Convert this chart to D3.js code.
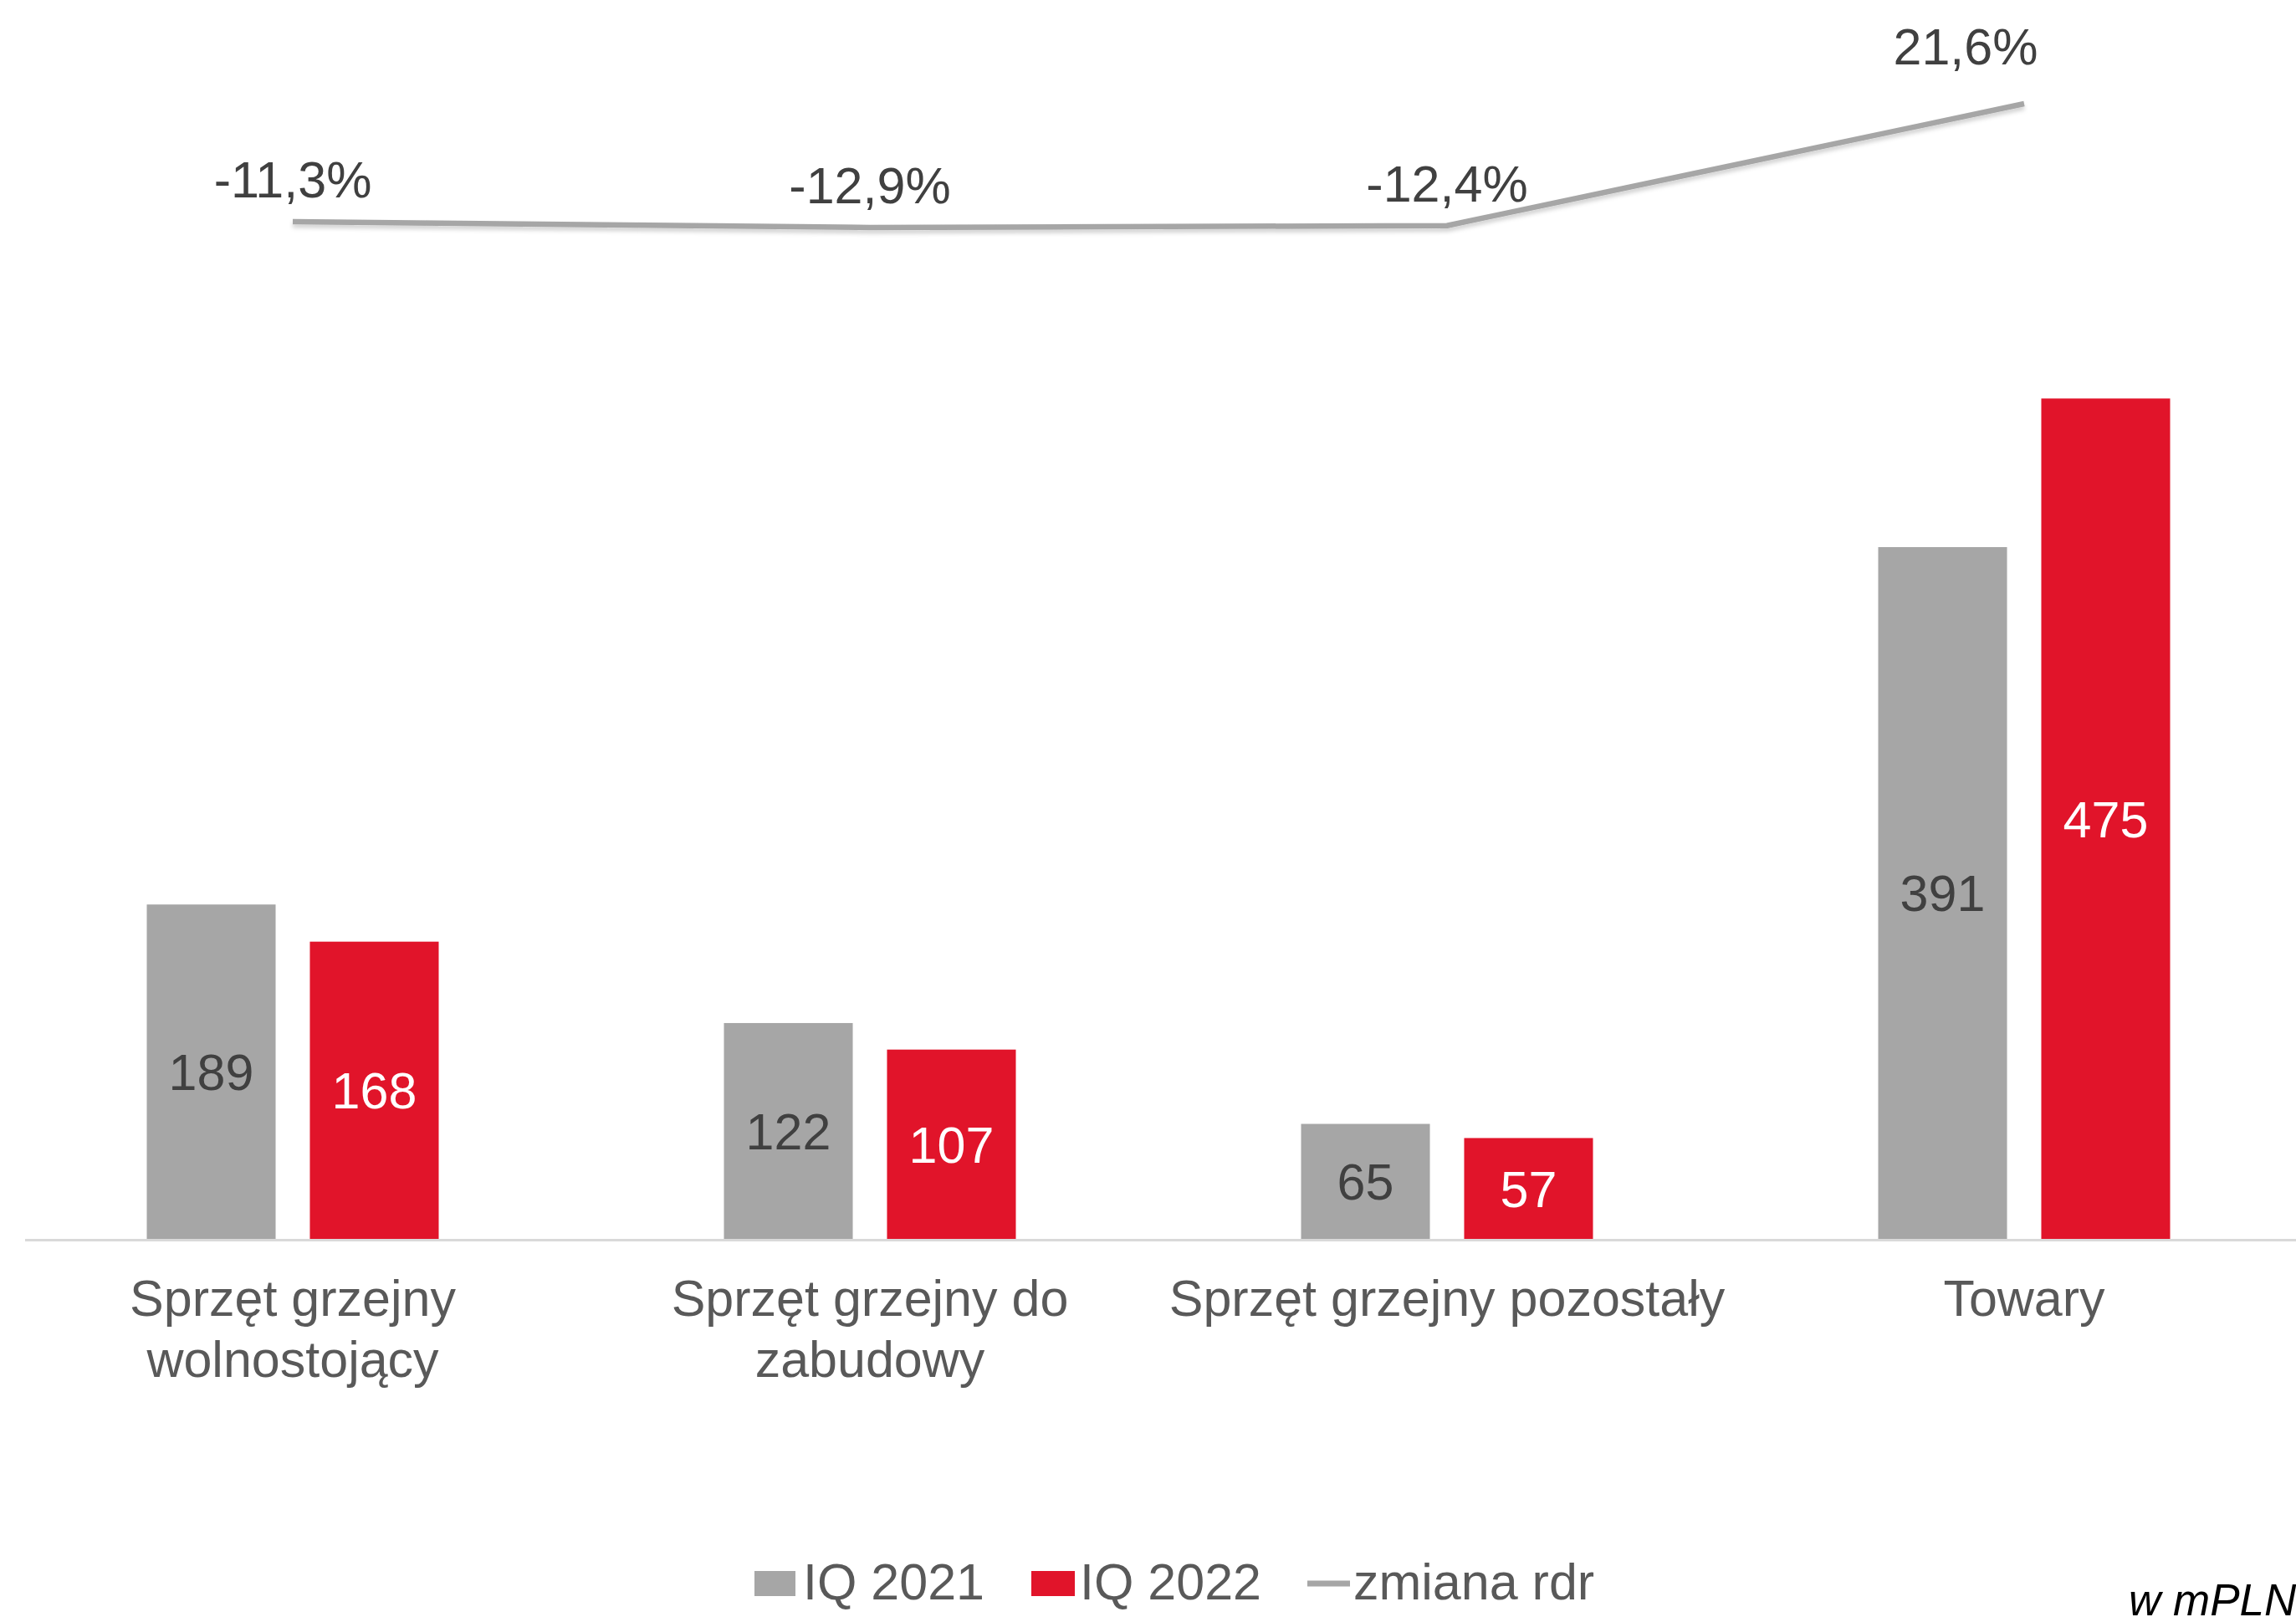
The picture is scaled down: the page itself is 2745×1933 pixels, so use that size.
<!DOCTYPE html>
<html>
<head>
<meta charset="utf-8">
<script src="https://cdn.jsdelivr.net/npm/d3@7"></script>
<style>
	html, body { margin: 0; padding: 0; background: #fff; }
	svg { display: block; font-family: "Liberation Sans", Arial, sans-serif; }
</style>
</head>
<body>
<script>
'use strict';

// Chart data
const categories = ["Sprzęt grzejny wolnostojący", "Sprzęt grzejny do zabudowy", "Sprzęt grzejny pozostały", "Towary"];
const seriesNames = ["IQ 2021", "IQ 2022"];
const values2021 = [189, 122, 65, 391];
const values2022 = [168, 107, 57, 475];
const changeNames = "zmiana rdr";
const changes = [-11.3, -12.9, -12.4, 21.6];
const unitLabel = "w mPLN";

const params = {
	width: 2745,
	height: 1933,
	baseline: 1481,
	fontSize: 61
};

const colors = { "IQ 2021": "#a6a6a6", "IQ 2022": "#e1142a", line: "#a6a6a6" };

const fmtPct = v => v.toFixed(1).replace(".", ",") + "%";

const svg = d3.select("body").append("svg")
	.attr("width", params.width)
	.attr("height", params.height);

const defs = svg.append("defs");
defs.append("filter")
	.attr("id", "shadow")
	.attr("x", "-5%").attr("y", "-50%").attr("width", "110%").attr("height", "300%")
	.append("feDropShadow")
	.attr("dx", 0).attr("dy", 4).attr("stdDeviation", 2.5)
	.attr("flood-color", "#000").attr("flood-opacity", 0.18);

// Scales
const x0 = d3.scaleBand()
	.domain(categories)
	.range([5, 2765]);

const x1 = d3.scaleBand()
	.domain(seriesNames)
	.range([0, 349])
	.paddingInner(0.21);

const y = d3.scaleLinear()
	.domain([0, 500])
	.range([params.baseline, params.baseline - 500 * 2.115]);

const y2 = d3.scaleLinear()
	.domain([-40, 40])
	.range([388, 45.2]);

// Bars
const rows = categories.map((c, i) => ({
	category: c,
	bars: [
		{ series: seriesNames[0], value: values2021[i] },
		{ series: seriesNames[1], value: values2022[i] }
	]
}));

const groups = svg.append("g").selectAll("g")
	.data(rows)
	.join("g")
	.attr("transform", d => `translate(${x0(d.category) + x0.bandwidth() / 2 - 174.5},0)`);

groups.selectAll("rect")
	.data(d => d.bars)
	.join("rect")
	.attr("x", d => x1(d.series))
	.attr("y", d => y(d.value))
	.attr("width", x1.bandwidth())
	.attr("height", d => y(0) - y(d.value))
	.attr("fill", d => colors[d.series]);

groups.selectAll("text")
	.data(d => d.bars)
	.join("text")
	.attr("x", d => x1(d.series) + x1.bandwidth() / 2)
	.attr("y", d => (y(d.value) + y(0)) / 2)
	.attr("dy", "0.36em")
	.attr("text-anchor", "middle")
	.attr("font-size", params.fontSize)
	.attr("fill", d => d.series === seriesNames[1] ? "#ffffff" : "#404040")
	.text(d => d.value);

// Category axis line
svg.append("line")
	.attr("x1", 30).attr("x2", params.width)
	.attr("y1", params.baseline + 1.5).attr("y2", params.baseline + 1.5)
	.attr("stroke", "#d9d9d9")
	.attr("stroke-width", 3);

// Category labels, wrapped to the band width
const catLabels = svg.append("g").selectAll("text")
	.data(categories)
	.join("text")
	.attr("text-anchor", "middle")
	.attr("font-size", params.fontSize)
	.attr("fill", "#595959")
	.attr("x", d => x0(d) + x0.bandwidth() / 2)
	.attr("y", 1573);

catLabels.each(function (d) {
	const text = d3.select(this);
	const words = d.split(" ");
	const cx = +text.attr("x");
	let line = [];
	let tspan = text.append("tspan").attr("x", cx).attr("dy", 0);
	words.forEach(w => {
		line.push(w);
		tspan.text(line.join(" "));
		if (tspan.node().getComputedTextLength() > x0.bandwidth() && line.length > 1) {
			line.pop();
			tspan.text(line.join(" "));
			line = [w];
			tspan = text.append("tspan").attr("x", cx).attr("dy", 73).text(w);
		}
	});
});

// Change line (secondary scale)
const linePts = categories.map((c, i) => ({ x: x0(c) + x0.bandwidth() / 2, v: changes[i] }));

const line = d3.line()
	.x(d => d.x)
	.y(d => y2(d.v));

svg.append("path")
	.datum(linePts)
	.attr("d", line)
	.attr("fill", "none")
	.attr("stroke", colors.line)
	.attr("stroke-width", 6.5)
	.attr("stroke-linejoin", "round")
	.attr("filter", "url(#shadow)");

const nudge = [[0, -29], [0, -29], [0, -29], [-70, -47]];

svg.append("g").selectAll("text")
	.data(linePts)
	.join("text")
	.attr("x", (d, i) => d.x + nudge[i][0])
	.attr("y", (d, i) => y2(d.v) + nudge[i][1])
	.attr("text-anchor", "middle")
	.attr("font-size", params.fontSize)
	.attr("fill", "#404040")
	.text(d => fmtPct(d.v));

// Legend
const legend = svg.append("g").attr("font-size", params.fontSize).attr("fill", "#595959");

legend.append("rect").attr("x", 902).attr("y", 1878).attr("width", 49).attr("height", 30).attr("fill", colors[seriesNames[0]]);
legend.append("text").attr("x", 960).attr("y", 1912).text(seriesNames[0]);

legend.append("rect").attr("x", 1233).attr("y", 1878).attr("width", 52).attr("height", 30).attr("fill", colors[seriesNames[1]]);
legend.append("text").attr("x", 1291).attr("y", 1912).text(seriesNames[1]);

legend.append("line").attr("x1", 1563).attr("x2", 1614).attr("y1", 1893).attr("y2", 1893)
	.attr("stroke", colors.line).attr("stroke-width", 7);
legend.append("text").attr("x", 1618).attr("y", 1912).text(changeNames);

// Unit note
svg.append("text")
	.attr("x", 2545).attr("y", 1931)
	.attr("font-size", 53)
	.attr("font-style", "italic")
	.attr("fill", "#000")
	.text(unitLabel);
</script>
</body>
</html>
